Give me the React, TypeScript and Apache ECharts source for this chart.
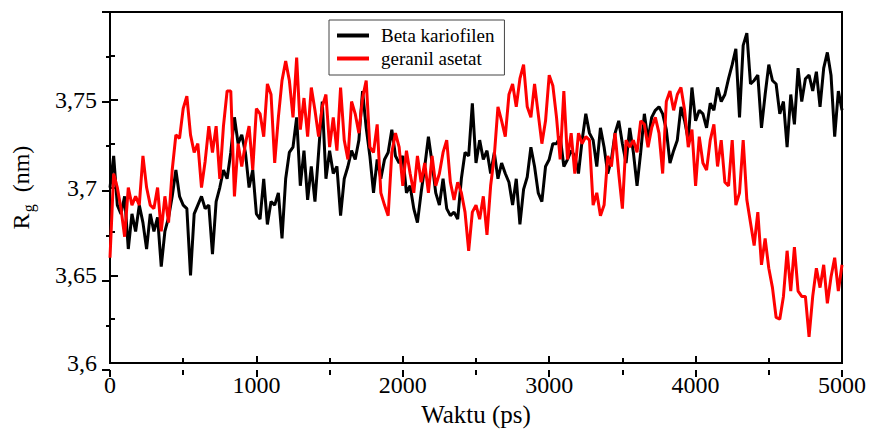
import React, { useEffect, useRef } from "react";
import * as echarts from "echarts";

// sampling step of the trajectory (ps)
const timeStep = 25;

const seriesNames = ["Beta kariofilen", "geranil asetat"];

// Rg (nm) of Beta kariofilen, every 25 ps from 0 to 5000 ps
const betaKariofilen = [
  3.700, 3.718, 3.690, 3.685, 3.695, 3.665, 3.685, 3.675, 3.690, 3.680,
  3.665, 3.685, 3.675, 3.683, 3.655, 3.675, 3.683, 3.695, 3.710, 3.695,
  3.690, 3.688, 3.650, 3.685, 3.690, 3.695, 3.688, 3.690, 3.662, 3.692,
  3.700, 3.710, 3.705, 3.720, 3.740, 3.725, 3.730, 3.720, 3.700, 3.710,
  3.685,
  3.682, 3.705, 3.679, 3.692, 3.690, 3.697, 3.671, 3.705, 3.720, 3.723,
  3.740, 3.701, 3.721, 3.693, 3.712, 3.692, 3.720, 3.749, 3.705, 3.721,
  3.708, 3.712, 3.684, 3.705, 3.712, 3.721, 3.716, 3.727, 3.755, 3.734,
  3.718, 3.697, 3.716, 3.705, 3.716, 3.720, 3.733, 3.718, 3.714, 3.718,
  3.697,
  3.701, 3.688, 3.680, 3.697, 3.712, 3.729, 3.714, 3.697, 3.690, 3.705,
  3.688, 3.684, 3.686, 3.682, 3.705, 3.720, 3.718, 3.748, 3.714, 3.727,
  3.716, 3.721, 3.708, 3.720, 3.705, 3.714, 3.708, 3.703, 3.690, 3.705,
  3.679, 3.699, 3.706, 3.723, 3.712, 3.697, 3.692, 3.712, 3.716, 3.725,
  3.725, 3.729, 3.712, 3.716, 3.721, 3.718, 3.708, 3.727, 3.742, 3.731,
  3.727, 3.712, 3.734, 3.723, 3.708, 3.716, 3.731, 3.738, 3.725, 3.714,
  3.734, 3.720, 3.701, 3.720, 3.742, 3.727, 3.740, 3.744, 3.746, 3.742,
  3.733, 3.714, 3.721, 3.727, 3.746, 3.738, 3.727, 3.757, 3.738, 3.744,
  3.742, 3.734, 3.748, 3.744, 3.757, 3.749, 3.753, 3.762, 3.770, 3.779,
  3.740, 3.781, 3.788, 3.759, 3.761, 3.764, 3.734, 3.753, 3.770, 3.761,
  3.759, 3.742, 3.749, 3.723, 3.753, 3.736, 3.768, 3.749, 3.762, 3.764,
  3.755, 3.766, 3.746, 3.768, 3.777, 3.764, 3.729, 3.755, 3.744,
];

// Rg (nm) of geranil asetat, every 25 ps from 0 to 5000 ps
const geranilAsetat = [
  3.660, 3.708, 3.700, 3.688, 3.672, 3.700, 3.690, 3.695, 3.690, 3.718,
  3.700, 3.690, 3.688, 3.700, 3.675, 3.695, 3.680, 3.710, 3.730, 3.728,
  3.745, 3.752, 3.730, 3.720, 3.725, 3.700, 3.715, 3.735, 3.720, 3.735,
  3.705, 3.735, 3.755, 3.755, 3.695, 3.725, 3.712, 3.725, 3.735, 3.710,
  3.745,
  3.742, 3.729, 3.759, 3.753, 3.714, 3.740, 3.761, 3.772, 3.761, 3.740,
  3.774, 3.733, 3.751, 3.729, 3.757, 3.744, 3.729, 3.746, 3.753, 3.723,
  3.740, 3.721, 3.757, 3.727, 3.716, 3.749, 3.742, 3.731, 3.751, 3.761,
  3.723, 3.720, 3.736, 3.697, 3.690, 3.684, 3.720, 3.731, 3.723, 3.701,
  3.721,
  3.708, 3.697, 3.718, 3.703, 3.714, 3.697, 3.718, 3.701, 3.708, 3.720,
  3.727, 3.703, 3.693, 3.703, 3.697, 3.686, 3.664, 3.686, 3.690, 3.682,
  3.695, 3.673, 3.701, 3.718, 3.746, 3.738, 3.729, 3.753, 3.759, 3.746,
  3.762, 3.770, 3.746, 3.740, 3.759, 3.742, 3.725, 3.738, 3.764, 3.758,
  3.740, 3.716, 3.755, 3.716, 3.731, 3.708, 3.731, 3.725, 3.729, 3.727,
  3.690, 3.697, 3.684, 3.690, 3.718, 3.712, 3.731, 3.708, 3.688, 3.727,
  3.723, 3.727, 3.720, 3.738, 3.736, 3.723, 3.734, 3.740, 3.731, 3.708,
  3.749, 3.755, 3.744, 3.753, 3.757, 3.744, 3.723, 3.733, 3.701, 3.729,
  3.714, 3.710, 3.727, 3.736, 3.712, 3.727, 3.703, 3.701, 3.727, 3.690,
  3.697, 3.727, 3.693, 3.680, 3.667, 3.686, 3.656, 3.671, 3.654, 3.643,
  3.626, 3.625, 3.638, 3.664, 3.641, 3.666, 3.641, 3.638, 3.638, 3.615,
  3.638, 3.654, 3.643, 3.656, 3.634, 3.649, 3.660, 3.641, 3.656,
];

const xTicks = { min: 0, max: 5000, interval: 1000 };
const yTicks = { min: 3.6, max: 3.8, interval: 0.05 };

const FONT = "Liberation Serif";

export default function App() {
  const ref = useRef<HTMLDivElement>(null);

  useEffect(() => {
    document.body.style.margin = "0";
    if (!ref.current) return;
    const chart = echarts.init(ref.current, null, { renderer: "svg" });

    const toPairs = (vals: number[]) => vals.map((v, i) => [i * timeStep, v]);

    const gridRect = { left: 110, right: 28, top: 12, bottom: 62 };

    const yFmt = (v: number) => {
      const r = Math.round(v * 100) / 100;
      if (r >= 3.8) return "";
      return String(r).replace(".", ",");
    };
    const xFmt = (v: number) => String(Math.round(v));

    chart.setOption({
      animation: false,
      backgroundColor: "#ffffff",
      textStyle: { fontFamily: FONT },
      grid: [
        { ...gridRect, show: true, borderColor: "#000", borderWidth: 2, backgroundColor: "transparent" },
        { ...gridRect, show: false },
      ],
      legend: {
        show: true,
        data: seriesNames,
        orient: "vertical",
        left: 329,
        top: 20,
        padding: [6, 10, 7, 8],
        itemGap: 4,
        itemWidth: 32,
        itemHeight: 4,
        icon: "rect",
        borderColor: "#444",
        borderWidth: 1,
        backgroundColor: "#fff",
        textStyle: { fontFamily: FONT, fontSize: 19, color: "#000", padding: [0, 0, 0, 7], lineHeight: 19 },
      },
      xAxis: [
        {
          type: "value",
          gridIndex: 0,
          ...xTicks,
          position: "bottom",
          name: "Waktu (ps)",
          nameLocation: "middle",
          nameGap: 38,
          nameTextStyle: { fontFamily: FONT, fontSize: 25, color: "#000" },
          axisLine: { show: true, onZero: false, lineStyle: { color: "#000", width: 2 } },
          axisTick: { show: true, inside: true, length: 7, lineStyle: { color: "#000", width: 2 } },
          minorTick: { show: true, splitNumber: 2, length: 5, lineStyle: { color: "#000", width: 2 } },
          splitLine: { show: false },
          axisLabel: { fontFamily: FONT, fontSize: 24, color: "#000", margin: 10, formatter: xFmt },
        },
        {
          type: "value",
          gridIndex: 1,
          ...xTicks,
          position: "bottom",
          axisLine: { show: false, onZero: false },
          axisTick: { show: true, inside: false, length: 7, lineStyle: { color: "#000", width: 2 } },
          minorTick: { show: true, splitNumber: 2, length: 5, lineStyle: { color: "#000", width: 2 } },
          splitLine: { show: false },
          axisLabel: { show: false },
        },
      ],
      yAxis: [
        {
          type: "value",
          gridIndex: 0,
          ...yTicks,
          position: "left",
          name: "{r|R}{s|g}{r|  (nm)}",
          nameLocation: "middle",
          nameGap: 74,
          nameRotate: 90,
          nameTextStyle: {
            color: "#000",
            fontFamily: FONT,
            rich: {
              r: { fontFamily: FONT, fontSize: 24, color: "#000" },
              s: { fontFamily: FONT, fontSize: 16, color: "#000", padding: [14, 0, 0, 1] },
            },
          },
          axisLine: { show: true, onZero: false, lineStyle: { color: "#000", width: 2 } },
          axisTick: { show: true, inside: true, length: 8, lineStyle: { color: "#000", width: 2 } },
          minorTick: { show: true, splitNumber: 2, length: 5, lineStyle: { color: "#000", width: 2 } },
          splitLine: { show: false },
          axisLabel: { fontFamily: FONT, fontSize: 24, color: "#000", margin: 13, formatter: yFmt },
        },
        {
          type: "value",
          gridIndex: 1,
          ...yTicks,
          position: "left",
          axisLine: { show: false, onZero: false },
          axisTick: { show: true, inside: false, length: 8, lineStyle: { color: "#000", width: 2 } },
          minorTick: { show: true, splitNumber: 2, length: 4, lineStyle: { color: "#000", width: 2 } },
          splitLine: { show: false },
          axisLabel: { show: false },
        },
      ],
      series: [
        {
          name: seriesNames[0],
          type: "line",
          xAxisIndex: 0,
          yAxisIndex: 0,
          data: toPairs(betaKariofilen),
          showSymbol: false,
          symbol: "none",
          color: "#000000",
          lineStyle: { color: "#000000", width: 3 },
          z: 2,
        },
        {
          name: seriesNames[1],
          type: "line",
          xAxisIndex: 0,
          yAxisIndex: 0,
          data: toPairs(geranilAsetat),
          showSymbol: false,
          symbol: "none",
          color: "#ff0000",
          lineStyle: { color: "#ff0000", width: 3 },
          z: 3,
        },
      ],
    });

    return () => chart.dispose();
  }, []);

  return <div ref={ref} style={{ width: 870, height: 432 }} />;
}
